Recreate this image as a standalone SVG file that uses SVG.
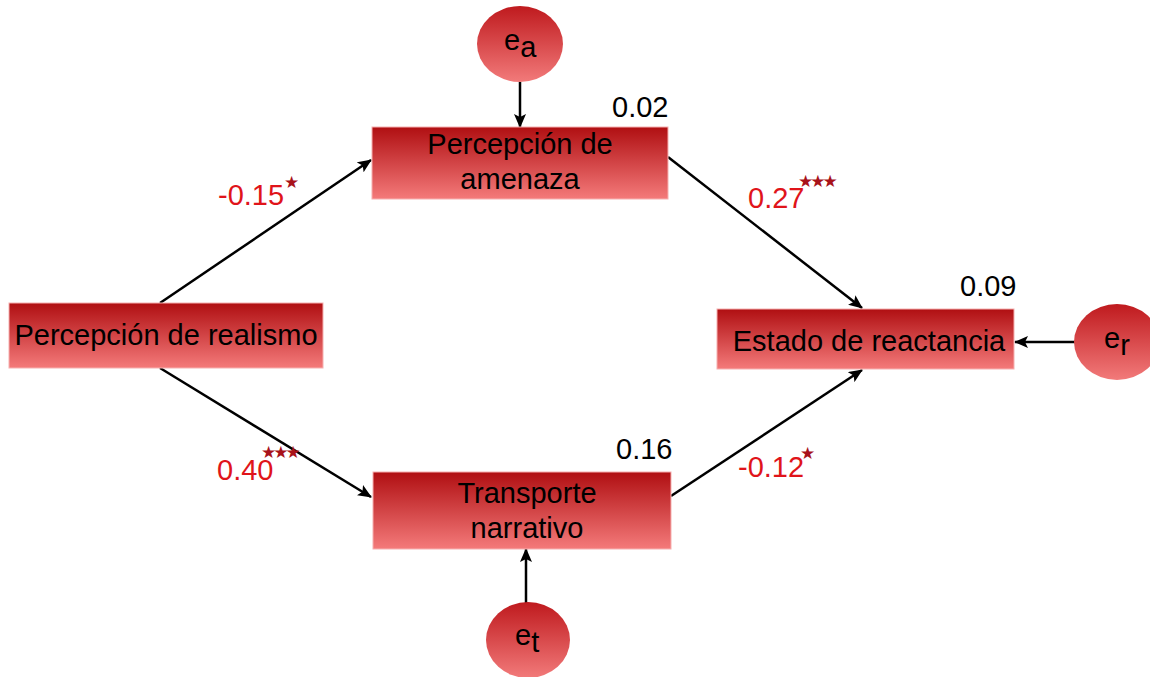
<svg xmlns="http://www.w3.org/2000/svg" width="1150" height="677" viewBox="0 0 1150 677">
  <defs>
    <linearGradient id="boxFill" x1="0" y1="0" x2="0" y2="1">
      <stop offset="0" stop-color="#b00f12"/>
      <stop offset="1" stop-color="#f47a7a"/>
    </linearGradient>
    <linearGradient id="errFill" x1="0" y1="0" x2="0" y2="1">
      <stop offset="0" stop-color="#bf1a1e"/>
      <stop offset="1" stop-color="#f27a7a"/>
    </linearGradient>
    <marker id="arrow" viewBox="0 0 14 12" refX="13" refY="6" markerWidth="14" markerHeight="12" markerUnits="userSpaceOnUse" orient="auto">
      <path d="M0,0 L14,6 L0,12 L3,6 z" fill="#000"/>
    </marker>
  </defs>
  <style>
    .box { fill: url(#boxFill); stroke: #f6b0b0; stroke-width: 1; }
    .err { fill: url(#errFill); stroke: none; }
    .lbl { font-family: "Liberation Sans", Arial, sans-serif; font-size: 29px; fill: #000; }
    .mid { text-anchor: middle; }
    .coef { font-family: "Liberation Sans", Arial, sans-serif; font-size: 29px; fill: #e0141a; }
    .sig { font-family: "DejaVu Sans", sans-serif; font-size: 17px; letter-spacing: -3px; fill: #a8121a; }
    .link { stroke: #000; stroke-width: 2.5; fill: none; marker-end: url(#arrow); }
  </style>

  <rect width="1150" height="677" fill="#fff"/>

  <!-- paths between variables -->
  <g id="connectors">
    <line class="link" x1="160" y1="303" x2="371" y2="160"/>
    <line class="link" x1="160" y1="368" x2="371" y2="497"/>
    <line class="link" x1="668" y1="157" x2="862" y2="308"/>
    <line class="link" x1="671" y1="496" x2="862" y2="370"/>
    <line class="link" x1="520" y1="82" x2="520" y2="127"/>
    <line class="link" x1="526" y1="603" x2="526" y2="549"/>
    <line class="link" x1="1075" y1="342" x2="1015" y2="342"/>
  </g>

  <g id="realismo">
    <rect class="box" x="9" y="303" width="314" height="65"/>
    <text class="lbl mid" x="166" y="345">Percepción de realismo</text>
  </g>

  <g id="amenaza">
    <rect class="box" x="372" y="127" width="296" height="72"/>
    <text class="lbl mid" x="520" y="154">Percepción de</text>
    <text class="lbl mid" x="520" y="189">amenaza</text>
    <text class="lbl" x="612" y="117">0.02</text>
  </g>

  <g id="transporte">
    <rect class="box" x="373" y="472" width="298" height="77"/>
    <text class="lbl mid" x="527" y="503">Transporte</text>
    <text class="lbl mid" x="527" y="538">narrativo</text>
    <text class="lbl" x="616" y="459">0.16</text>
  </g>

  <g id="reactancia">
    <rect class="box" x="717" y="309" width="297" height="60"/>
    <text class="lbl mid" x="869" y="351">Estado de reactancia</text>
    <text class="lbl" x="960" y="296">0.09</text>
  </g>

  <g id="error-a">
    <ellipse class="err" cx="520" cy="44" rx="43" ry="38"/>
    <text class="lbl" x="504" y="50">e<tspan dy="7">a</tspan></text>
  </g>

  <g id="error-t">
    <ellipse class="err" cx="528" cy="640" rx="42" ry="38"/>
    <text class="lbl" x="515" y="645">e<tspan dy="7">t</tspan></text>
  </g>

  <g id="error-r">
    <ellipse class="err" cx="1117" cy="342" rx="43" ry="38"/>
    <text class="lbl" x="1104" y="348">e<tspan dy="7">r</tspan></text>
  </g>

  <!-- path coefficients with significance marks -->
  <g id="coefficients">
    <text class="coef" x="218" y="205">-0.15</text>
    <text class="sig" x="284" y="188">★</text>

    <text class="coef" x="217" y="480">0.40</text>
    <text class="sig" x="261" y="458">★★★</text>

    <text class="coef" x="748" y="208">0.27</text>
    <text class="sig" x="798" y="187">★★★</text>

    <text class="coef" x="738" y="477">-0.12</text>
    <text class="sig" x="800" y="459">★</text>
  </g>
</svg>
